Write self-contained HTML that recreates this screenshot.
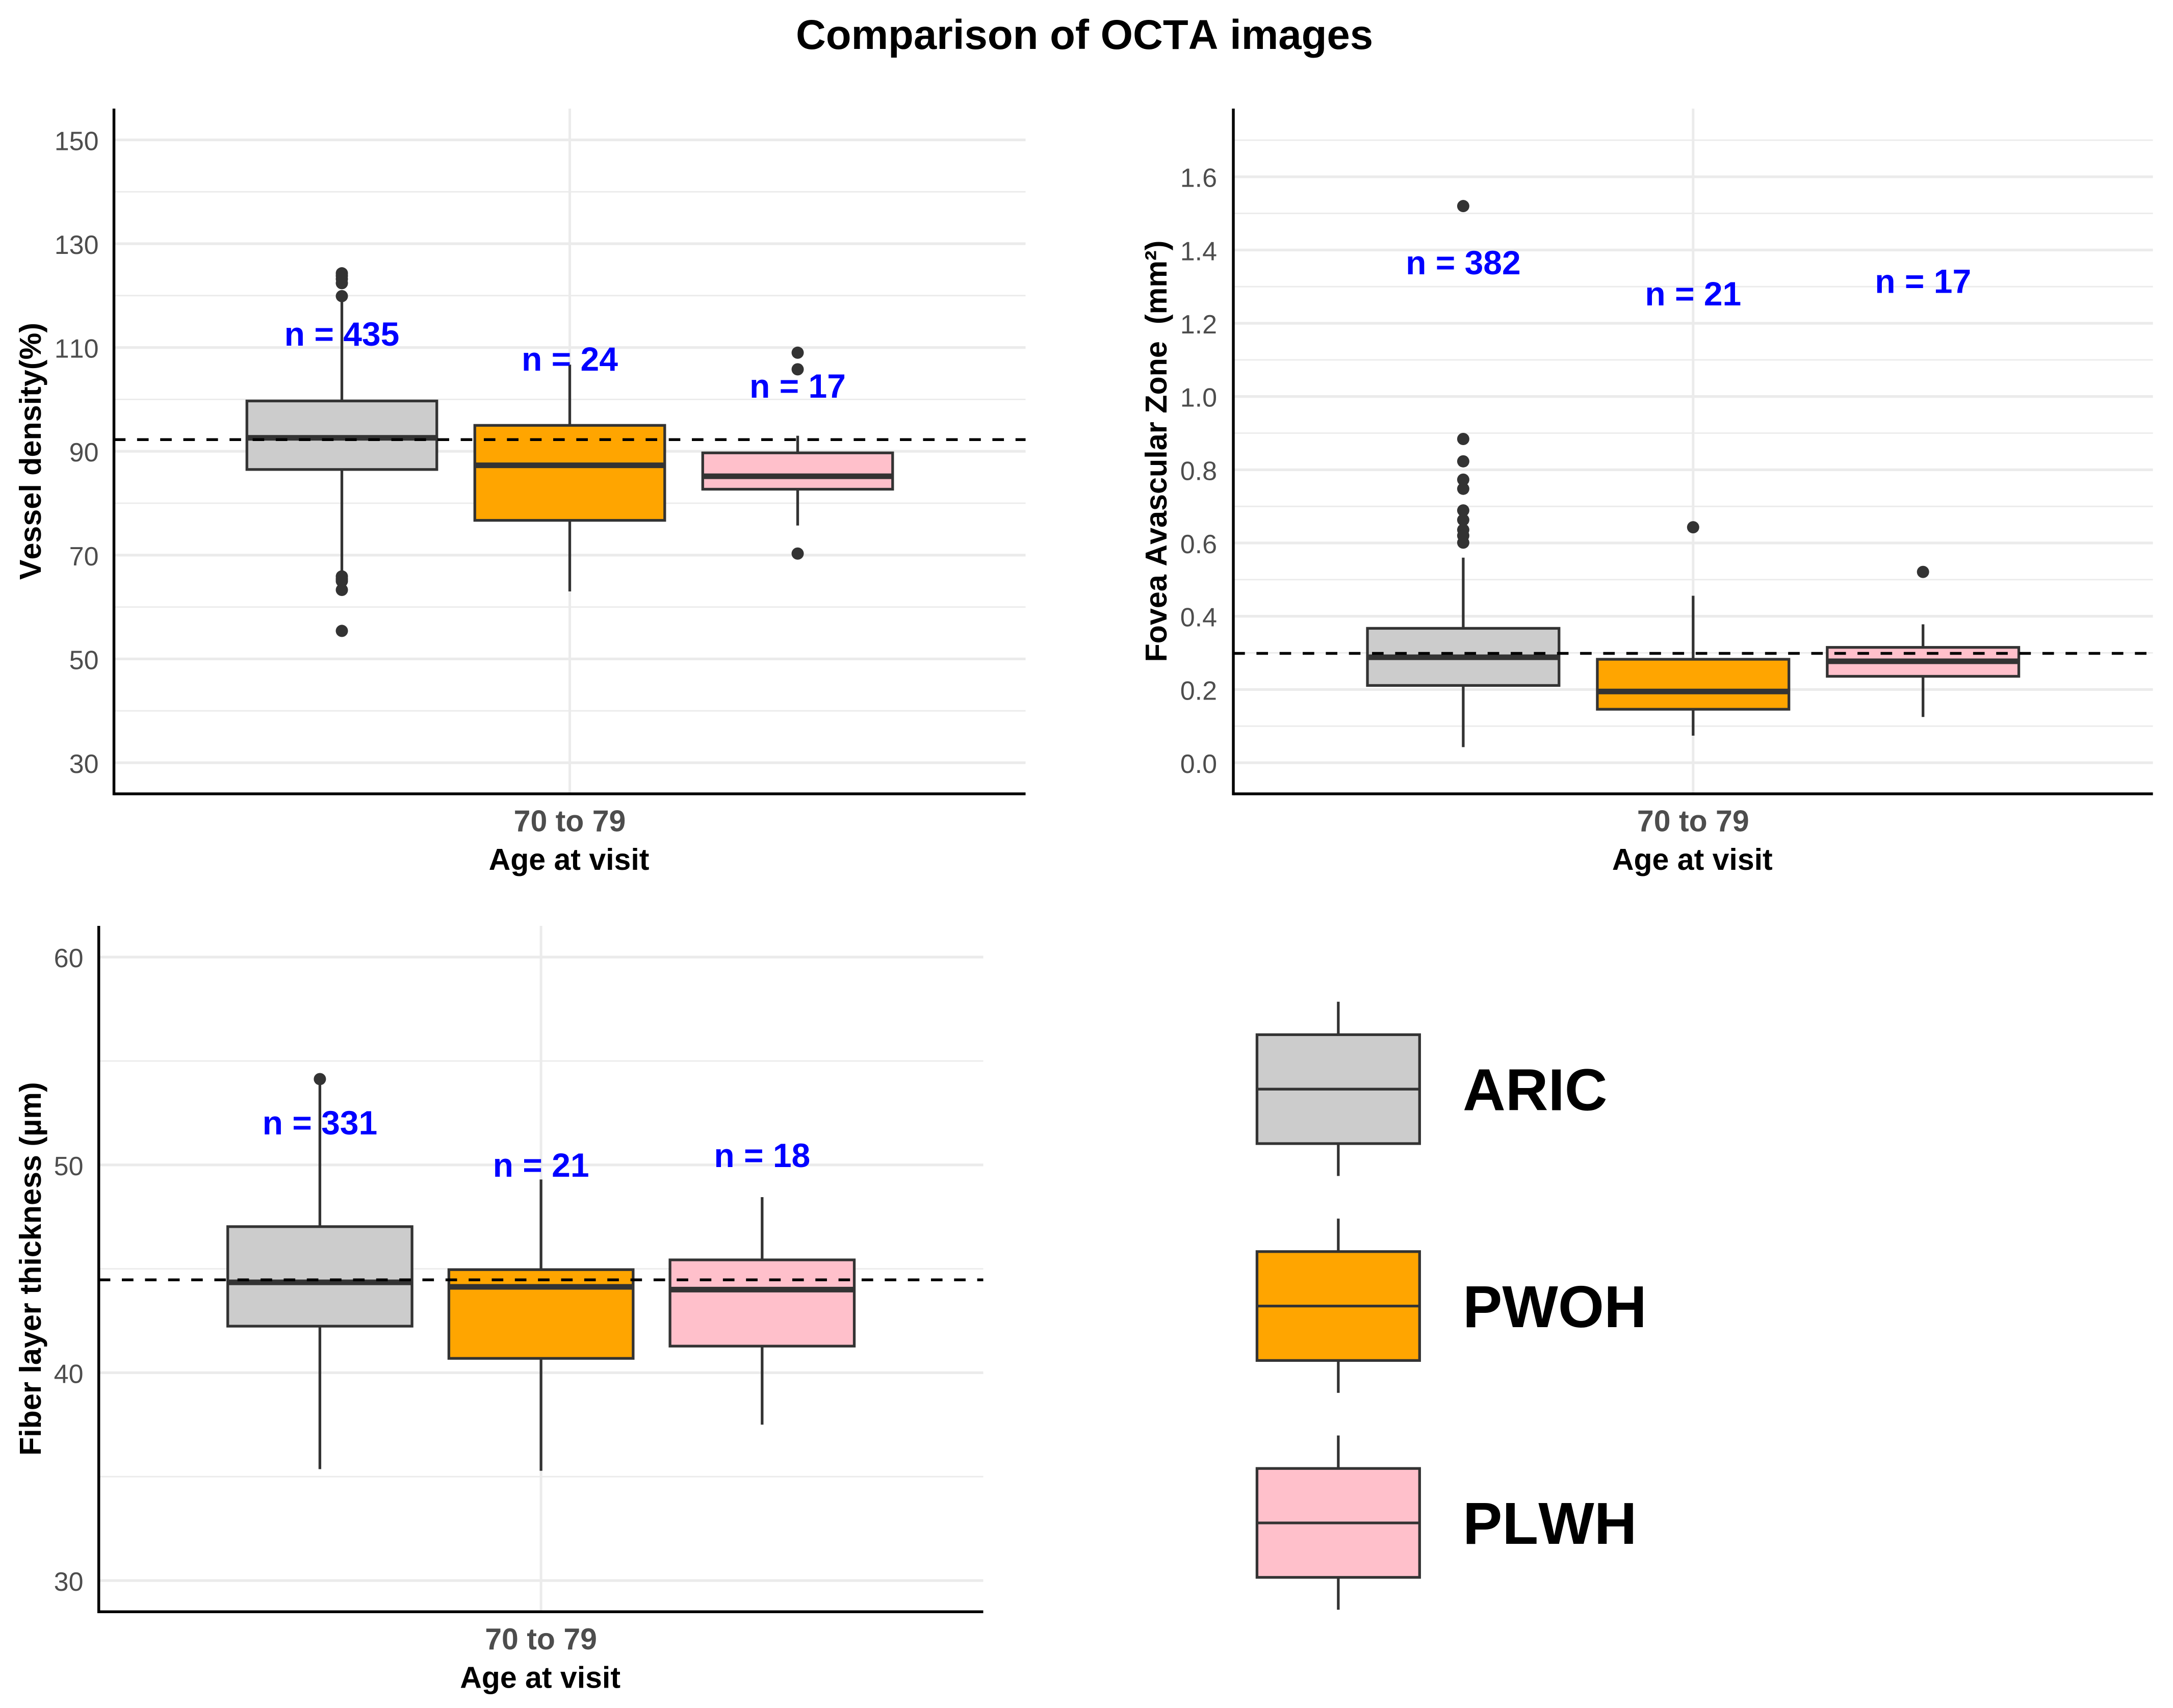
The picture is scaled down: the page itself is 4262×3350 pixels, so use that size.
<!DOCTYPE html>
<html lang="en">
<head>
<meta charset="utf-8">
<title>Comparison of OCTA images</title>
<style>
html,body{margin:0;padding:0;background:#fff;}
svg{display:block;}
text{font-family:"Liberation Sans",Arial,sans-serif;white-space:pre;font-kerning:none;}
</style>
</head>
<body>
<svg id="figure" xmlns="http://www.w3.org/2000/svg" width="4262" height="3350" viewBox="0 0 4262 3350">
<rect x="0" y="0" width="4262" height="3350" fill="#ffffff"/>
<text x="2127" y="96" text-anchor="middle" font-size="81.5" font-weight="700" fill="#000">Comparison of OCTA images</text>
</svg>
<script>
// Shared categories
const groups = ['ARIC', 'PWOH', 'PLWH'];
const xCategory = '70 to 79';

// Vessel density panel
const vdTicks = [30, 50, 70, 90, 110, 130, 150];
const vdMinorTicks = [40, 60, 80, 100, 120, 140];
const vdQ1 = [86.5, 76.7, 82.7];
const vdMedian = [92.6, 87.3, 85.2];
const vdQ3 = [99.7, 95.0, 89.7];
const vdWhiskerLow = [67, 63, 75.7];
const vdWhiskerHigh = [119, 106.7, 93];
const vdOutliers = [[124.3, 123.8, 123.2, 122.4, 119.9, 65.9, 65.4, 65, 63.3, 55.4], [], [109, 105.8, 70.3]];
const vdCounts = ['n = 435', 'n = 24', 'n = 17'];
const vdLabelY = [110.35, 105.55, 100.35];
const vdReference = 92.25;

// Fovea avascular zone panel
const fazTicks = [0, 0.2, 0.4, 0.6, 0.8, 1.0, 1.2, 1.4, 1.6];
const fazMinorTicks = [0.1, 0.3, 0.5, 0.7, 0.9, 1.1, 1.3, 1.5, 1.7];
const fazQ1 = [0.211, 0.146, 0.236];
const fazMedian = [0.288, 0.1945, 0.277];
const fazQ3 = [0.367, 0.2825, 0.315];
const fazWhiskerLow = [0.0426, 0.074, 0.125];
const fazWhiskerHigh = [0.56, 0.456, 0.378];
const fazOutliers = [[1.52, 0.884, 0.823, 0.773, 0.748, 0.689, 0.663, 0.636, 0.62, 0.601], [0.643], [0.521]];
const fazCounts = ['n = 382', 'n = 21', 'n = 17'];
const fazLabelY = [1.334, 1.249, 1.283];
const fazReference = 0.2987;

// Fiber layer thickness panel
const rnflTicks = [30, 40, 50, 60];
const rnflMinorTicks = [35, 45, 55];
const rnflQ1 = [42.24, 40.69, 41.28];
const rnflMedian = [44.35, 44.13, 44.0];
const rnflQ3 = [47.03, 44.96, 45.43];
const rnflWhiskerLow = [35.36, 35.28, 37.5];
const rnflWhiskerHigh = [54, 49.3, 48.45];
const rnflOutliers = [[54.13], [], []];
const rnflCounts = ['n = 331', 'n = 21', 'n = 18'];
const rnflLabelY = [51.47, 49.43, 49.9];
const rnflReference = 44.47;

// Colours per group
const groupFills = ['#CCCCCC', '#FFA500', '#FFC0CB'];

const svg = document.getElementById('figure');
const NS = 'http://www.w3.org/2000/svg';

function mk(tag, attrs, parent) {
  const node = document.createElementNS(NS, tag);
  for (const key in attrs) node.setAttribute(key, attrs[key]);
  parent.appendChild(node);
  return node;
}

function decimals(ticks) {
  return ticks.some(t => !Number.isInteger(t)) ? 1 : 0;
}

function drawPanel(p) {
  const g = mk('g', {}, svg);
  
  

  const yScale = v => p.y0 - (v - p.v0) * p.pxPerUnit;
  const xCenter = (p.left + p.right) / 2;
  const unit = (p.right - p.left) / 1.2;
  const xScale = i => xCenter + (i - 1) * 0.3 * unit;
  const boxW = 0.25 * unit;
  const digits = decimals(p.ticks);

  p.minorTicks.forEach(t => {
    const el = mk('line', {x1: p.left, x2: p.right, y1: yScale(t), y2: yScale(t), stroke: '#EBEBEB', 'stroke-width': 2.8}, g);
    
    
  });
  p.ticks.forEach(t => {
    const el = mk('line', {x1: p.left, x2: p.right, y1: yScale(t), y2: yScale(t), stroke: '#EBEBEB', 'stroke-width': 5.3}, g);
    
    
  });
  const vGrid = mk('line', {x1: xCenter, x2: xCenter, y1: p.top, y2: p.bottom, stroke: '#EBEBEB', 'stroke-width': 5}, g);
  
  

  groups.forEach((name, i) => {
    const cx = xScale(i);
    const low = mk('line', {x1: cx, x2: cx, y1: yScale(p.q1[i]), y2: yScale(p.whiskerLow[i]), stroke: '#333333', 'stroke-width': 5.3}, g);
    
    

    const high = mk('line', {x1: cx, x2: cx, y1: yScale(p.q3[i]), y2: yScale(p.whiskerHigh[i]), stroke: '#333333', 'stroke-width': 5.3}, g);
    
    

    const box = mk('rect', {x: cx - boxW / 2, y: yScale(p.q3[i]), width: boxW, height: yScale(p.q1[i]) - yScale(p.q3[i]), fill: groupFills[i], stroke: '#333333', 'stroke-width': 5.3}, g);
    
    

    const med = mk('line', {x1: cx - boxW / 2, x2: cx + boxW / 2, y1: yScale(p.median[i]), y2: yScale(p.median[i]), stroke: '#333333', 'stroke-width': 11}, g);
    
    

    p.outliers[i].forEach(v => {
      const dot = mk('circle', {cx: cx, cy: yScale(v), r: 12, fill: '#333333'}, g);
      
      
    });
  });

  const ref = mk('line', {x1: p.left, x2: p.right, y1: yScale(p.reference), y2: yScale(p.reference), stroke: '#000', 'stroke-width': 5.5, 'stroke-dasharray': '22.67 22.67'}, g);
  
  

  groups.forEach((name, i) => {
    const label = mk('text', {x: xScale(i), y: yScale(p.labelY[i]), 'text-anchor': 'middle', 'font-size': 66, 'font-weight': 700, fill: '#0000FF'}, g);
    label.textContent = p.counts[i];
    
    
  });

  const yAxis = mk('line', {x1: p.left, x2: p.left, y1: p.top, y2: p.bottom + 2.7, stroke: '#000', 'stroke-width': 5.5}, g);
  
  

  const xAxis = mk('line', {x1: p.left, x2: p.right, y1: p.bottom, y2: p.bottom, stroke: '#000', 'stroke-width': 5.5}, g);
  
  

  p.ticks.forEach(t => {
    const tick = mk('text', {x: p.tickRight, y: yScale(t) + 20, 'text-anchor': 'end', 'font-size': 52, fill: '#4D4D4D'}, g);
    tick.textContent = t.toFixed(digits);
    
    
  });

  const cat = mk('text', {x: xCenter, y: p.bottom + 73.5, 'text-anchor': 'middle', 'font-size': 59, 'font-weight': 700, fill: '#4D4D4D'}, g);
  cat.textContent = xCategory;
  
  

  const xTitle = mk('text', {x: xCenter - 1.5, y: p.bottom + 149, 'text-anchor': 'middle', 'font-size': 59, 'font-weight': 700, fill: '#000'}, g);
  xTitle.textContent = 'Age at visit';
  
  

  const midY = (p.top + p.bottom) / 2;
  const yTitle = mk('text', {x: p.titleX, y: midY, 'text-anchor': 'middle', 'font-size': 59.3, 'font-weight': 700, fill: '#000', transform: 'rotate(-90 ' + p.titleX + ' ' + midY + ')'}, g);
  yTitle.textContent = p.title;
  
  
}

drawPanel({
  name: 'vessel-density', title: 'Vessel density(%)',
  left: 223.5, right: 2011.5, top: 213, bottom: 1557, v0: 30, y0: 1496, pxPerUnit: 10.18, tickRight: 193.5, titleX: 80,
  ticks: vdTicks, minorTicks: vdMinorTicks, q1: vdQ1, median: vdMedian, q3: vdQ3,
  whiskerLow: vdWhiskerLow, whiskerHigh: vdWhiskerHigh, outliers: vdOutliers,
  counts: vdCounts, labelY: vdLabelY, reference: vdReference
});

drawPanel({
  name: 'fovea-avascular-zone', title: 'Fovea Avascular Zone  (mm\u00B2)',
  left: 2419, right: 4222.6, top: 213, bottom: 1557, v0: 0, y0: 1496, pxPerUnit: 718.3, tickRight: 2387, titleX: 2288,
  ticks: fazTicks, minorTicks: fazMinorTicks, q1: fazQ1, median: fazMedian, q3: fazQ3,
  whiskerLow: fazWhiskerLow, whiskerHigh: fazWhiskerHigh, outliers: fazOutliers,
  counts: fazCounts, labelY: fazLabelY, reference: fazReference
});

drawPanel({
  name: 'fiber-layer-thickness', title: 'Fiber layer thickness (\u00B5m)',
  left: 193.7, right: 1928.5, top: 1816, bottom: 3161.3, v0: 30, y0: 3100, pxPerUnit: 40.76, tickRight: 163.5, titleX: 80,
  ticks: rnflTicks, minorTicks: rnflMinorTicks, q1: rnflQ1, median: rnflMedian, q3: rnflQ3,
  whiskerLow: rnflWhiskerLow, whiskerHigh: rnflWhiskerHigh, outliers: rnflOutliers,
  counts: rnflCounts, labelY: rnflLabelY, reference: rnflReference
});

// Legend
const legend = mk('g', {}, svg);



groups.forEach((name, i) => {
  const originY = 2029.4 + i * 425.4;
  const leftX = 2465.4;
  const keyW = 318.9;
  const keyH = 213.6;
  const midX = leftX + keyW / 2;

  const wTop = mk('line', {x1: midX, x2: midX, y1: originY - 64.7, y2: originY, stroke: '#333333', 'stroke-width': 5.3}, legend);
  
  

  const wBottom = mk('line', {x1: midX, x2: midX, y1: originY + keyH, y2: originY + keyH + 63.5, stroke: '#333333', 'stroke-width': 5.3}, legend);
  
  

  const key = mk('rect', {x: leftX, y: originY, width: keyW, height: keyH, fill: groupFills[i], stroke: '#333333', 'stroke-width': 5.3}, legend);
  
  

  const mid = mk('line', {x1: leftX, x2: leftX + keyW, y1: originY + keyH / 2, y2: originY + keyH / 2, stroke: '#333333', 'stroke-width': 5.3}, legend);
  
  

  const label = mk('text', {x: 2869, y: originY + 148, 'font-size': 116, 'font-weight': 700, fill: '#000'}, legend);
  label.textContent = name;
  
  
});
</script>
</body>
</html>
